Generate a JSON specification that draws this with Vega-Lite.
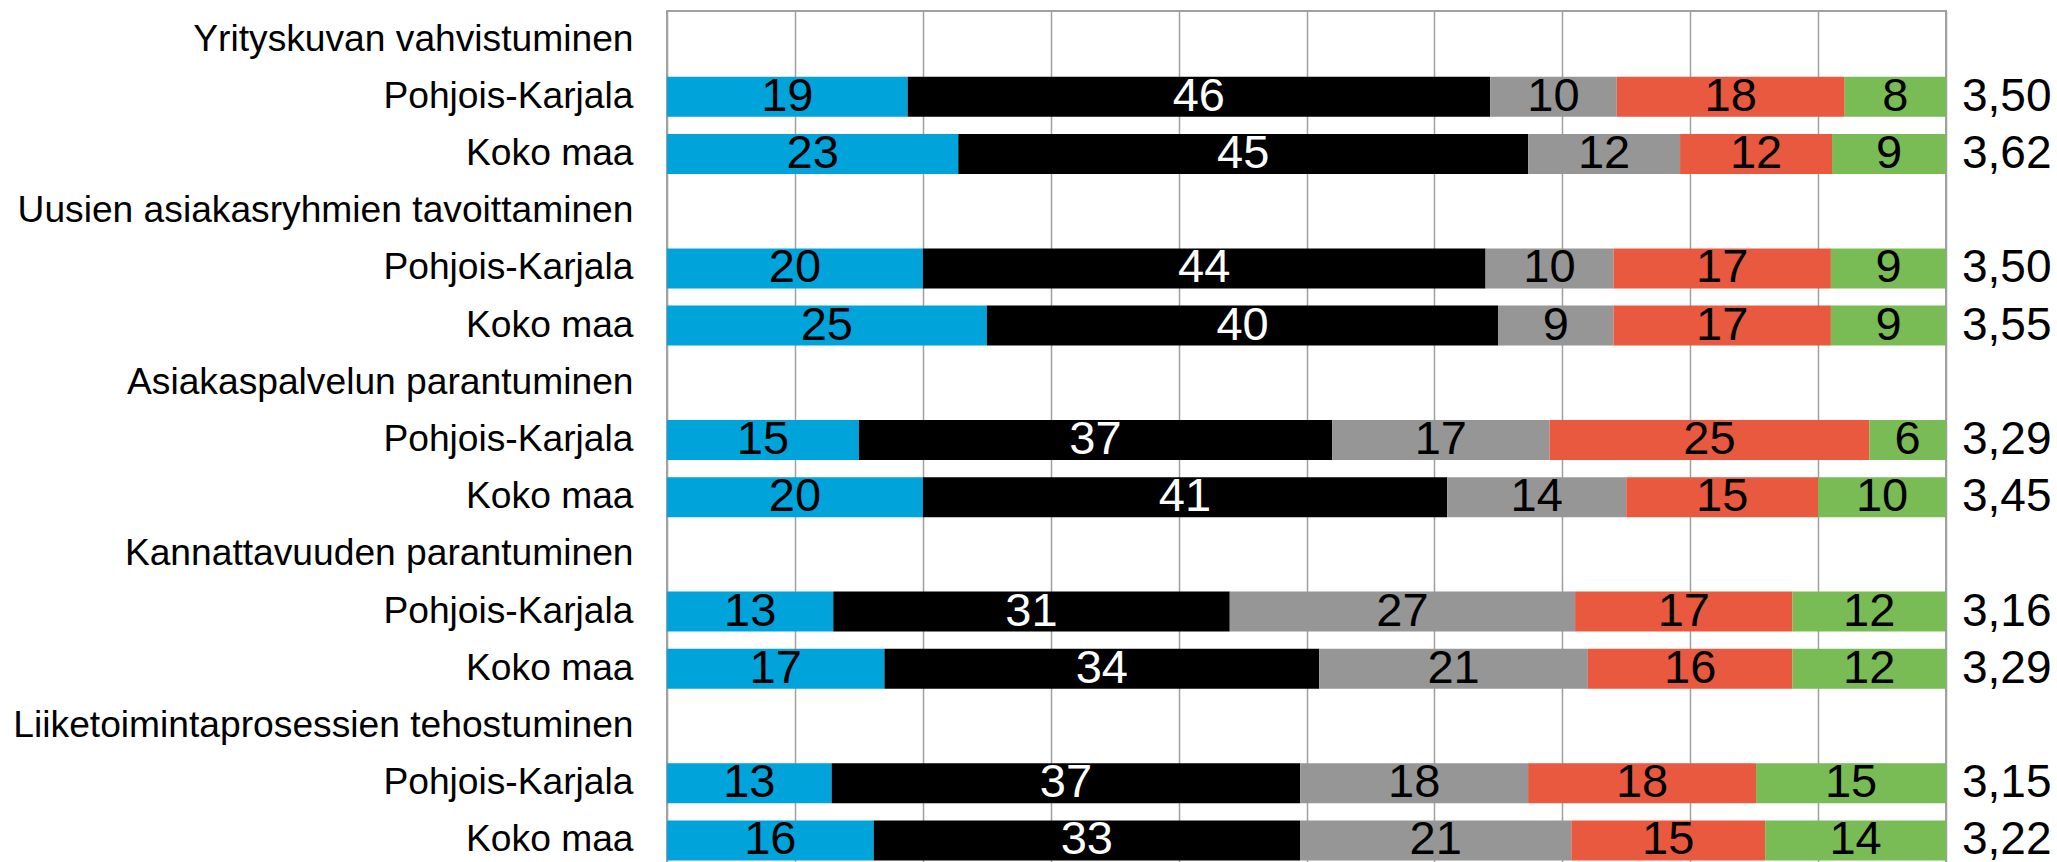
{
  "$schema": "https://vega.github.io/schema/vega-lite/v6.json",
  "width": 1279,
  "height": 858,
  "autosize": {"type": "none"},
  "padding": {"left": 667, "top": 11, "right": 111, "bottom": 0},
  "background": "white",
  "config": {"view": {"stroke": "#a0a0a0", "strokeWidth": 2}, "font": "Liberation Sans"},
  "datasets": {
    "bars": [
      {"row": "02|Pohjois-Karjala", "cat": "a", "k": 1, "v": 19},
      {"row": "02|Pohjois-Karjala", "cat": "b", "k": 2, "v": 46},
      {"row": "02|Pohjois-Karjala", "cat": "c", "k": 3, "v": 10},
      {"row": "02|Pohjois-Karjala", "cat": "d", "k": 4, "v": 18},
      {"row": "02|Pohjois-Karjala", "cat": "e", "k": 5, "v": 8},
      {"row": "03|Koko maa", "cat": "a", "k": 1, "v": 23},
      {"row": "03|Koko maa", "cat": "b", "k": 2, "v": 45},
      {"row": "03|Koko maa", "cat": "c", "k": 3, "v": 12},
      {"row": "03|Koko maa", "cat": "d", "k": 4, "v": 12},
      {"row": "03|Koko maa", "cat": "e", "k": 5, "v": 9},
      {"row": "05|Pohjois-Karjala", "cat": "a", "k": 1, "v": 20},
      {"row": "05|Pohjois-Karjala", "cat": "b", "k": 2, "v": 44},
      {"row": "05|Pohjois-Karjala", "cat": "c", "k": 3, "v": 10},
      {"row": "05|Pohjois-Karjala", "cat": "d", "k": 4, "v": 17},
      {"row": "05|Pohjois-Karjala", "cat": "e", "k": 5, "v": 9},
      {"row": "06|Koko maa", "cat": "a", "k": 1, "v": 25},
      {"row": "06|Koko maa", "cat": "b", "k": 2, "v": 40},
      {"row": "06|Koko maa", "cat": "c", "k": 3, "v": 9},
      {"row": "06|Koko maa", "cat": "d", "k": 4, "v": 17},
      {"row": "06|Koko maa", "cat": "e", "k": 5, "v": 9},
      {"row": "08|Pohjois-Karjala", "cat": "a", "k": 1, "v": 15},
      {"row": "08|Pohjois-Karjala", "cat": "b", "k": 2, "v": 37},
      {"row": "08|Pohjois-Karjala", "cat": "c", "k": 3, "v": 17},
      {"row": "08|Pohjois-Karjala", "cat": "d", "k": 4, "v": 25},
      {"row": "08|Pohjois-Karjala", "cat": "e", "k": 5, "v": 6},
      {"row": "09|Koko maa", "cat": "a", "k": 1, "v": 20},
      {"row": "09|Koko maa", "cat": "b", "k": 2, "v": 41},
      {"row": "09|Koko maa", "cat": "c", "k": 3, "v": 14},
      {"row": "09|Koko maa", "cat": "d", "k": 4, "v": 15},
      {"row": "09|Koko maa", "cat": "e", "k": 5, "v": 10},
      {"row": "11|Pohjois-Karjala", "cat": "a", "k": 1, "v": 13},
      {"row": "11|Pohjois-Karjala", "cat": "b", "k": 2, "v": 31},
      {"row": "11|Pohjois-Karjala", "cat": "c", "k": 3, "v": 27},
      {"row": "11|Pohjois-Karjala", "cat": "d", "k": 4, "v": 17},
      {"row": "11|Pohjois-Karjala", "cat": "e", "k": 5, "v": 12},
      {"row": "12|Koko maa", "cat": "a", "k": 1, "v": 17},
      {"row": "12|Koko maa", "cat": "b", "k": 2, "v": 34},
      {"row": "12|Koko maa", "cat": "c", "k": 3, "v": 21},
      {"row": "12|Koko maa", "cat": "d", "k": 4, "v": 16},
      {"row": "12|Koko maa", "cat": "e", "k": 5, "v": 12},
      {"row": "14|Pohjois-Karjala", "cat": "a", "k": 1, "v": 13},
      {"row": "14|Pohjois-Karjala", "cat": "b", "k": 2, "v": 37},
      {"row": "14|Pohjois-Karjala", "cat": "c", "k": 3, "v": 18},
      {"row": "14|Pohjois-Karjala", "cat": "d", "k": 4, "v": 18},
      {"row": "14|Pohjois-Karjala", "cat": "e", "k": 5, "v": 15},
      {"row": "15|Koko maa", "cat": "a", "k": 1, "v": 16},
      {"row": "15|Koko maa", "cat": "b", "k": 2, "v": 33},
      {"row": "15|Koko maa", "cat": "c", "k": 3, "v": 21},
      {"row": "15|Koko maa", "cat": "d", "k": 4, "v": 15},
      {"row": "15|Koko maa", "cat": "e", "k": 5, "v": 14}
    ],
    "avg": [
      {"row": "02|Pohjois-Karjala", "avg": "3,50"},
      {"row": "03|Koko maa", "avg": "3,62"},
      {"row": "05|Pohjois-Karjala", "avg": "3,50"},
      {"row": "06|Koko maa", "avg": "3,55"},
      {"row": "08|Pohjois-Karjala", "avg": "3,29"},
      {"row": "09|Koko maa", "avg": "3,45"},
      {"row": "11|Pohjois-Karjala", "avg": "3,16"},
      {"row": "12|Koko maa", "avg": "3,29"},
      {"row": "14|Pohjois-Karjala", "avg": "3,15"},
      {"row": "15|Koko maa", "avg": "3,22"}
    ]
  },
  "layer": [
    {
      "data": {"name": "bars"},
      "mark": {"type": "bar"},
      "encoding": {
        "y": {
          "field": "row",
          "type": "nominal",
          "sort": null,
          "scale": {
            "domain": [
              "01|Yrityskuvan vahvistuminen",
              "02|Pohjois-Karjala",
              "03|Koko maa",
              "04|Uusien asiakasryhmien tavoittaminen",
              "05|Pohjois-Karjala",
              "06|Koko maa",
              "07|Asiakaspalvelun parantuminen",
              "08|Pohjois-Karjala",
              "09|Koko maa",
              "10|Kannattavuuden parantuminen",
              "11|Pohjois-Karjala",
              "12|Koko maa",
              "13|Liiketoimintaprosessien tehostuminen",
              "14|Pohjois-Karjala",
              "15|Koko maa"
            ],
            "paddingInner": 0.3,
            "paddingOuter": 0.15
          },
          "axis": {
            "title": null,
            "ticks": false,
            "domain": false,
            "labelExpr": "split(datum.label, '|')[1]",
            "labelFontSize": 37.2,
            "labelColor": "black",
            "labelPadding": 34,
            "labelLimit": 1000,
            "labelFont": "Liberation Sans"
          }
        },
        "x": {
          "field": "v",
          "type": "quantitative",
          "stack": "normalize",
          "scale": {"domain": [0, 1], "nice": false},
          "axis": {
            "title": null,
            "values": [0, 0.1, 0.2, 0.3, 0.4, 0.5, 0.6, 0.7, 0.8, 0.9, 1],
            "grid": true,
            "gridColor": "#a0a0a0",
            "gridWidth": 1.5,
            "labels": false,
            "ticks": false,
            "domain": false
          }
        },
        "color": {
          "field": "cat",
          "type": "nominal",
          "scale": {"domain": ["a", "b", "c", "d", "e"], "range": ["#00A3DA", "#000000", "#969696", "#E9593F", "#79BB55"]},
          "legend": null
        },
        "order": {"field": "k", "type": "quantitative"}
      }
    },
    {
      "data": {"name": "bars"},
      "mark": {"type": "text", "fontSize": 47, "baseline": "middle", "align": "center", "font": "Liberation Sans"},
      "encoding": {
        "y": {"field": "row", "type": "nominal"},
        "x": {"field": "v", "type": "quantitative", "stack": "normalize", "bandPosition": 0.5},
        "detail": {"field": "cat"},
        "order": {"field": "k", "type": "quantitative"},
        "text": {"field": "v", "type": "quantitative"},
        "color": {"condition": {"test": "datum.cat === 'b'", "value": "white"}, "value": "black"}
      }
    },
    {
      "data": {"name": "avg"},
      "mark": {"type": "text", "align": "left", "dx": 16, "fontSize": 46, "baseline": "middle", "color": "black", "font": "Liberation Sans"},
      "encoding": {
        "y": {"field": "row", "type": "nominal"},
        "x": {"datum": 1},
        "text": {"field": "avg"}
      }
    }
  ]
}
